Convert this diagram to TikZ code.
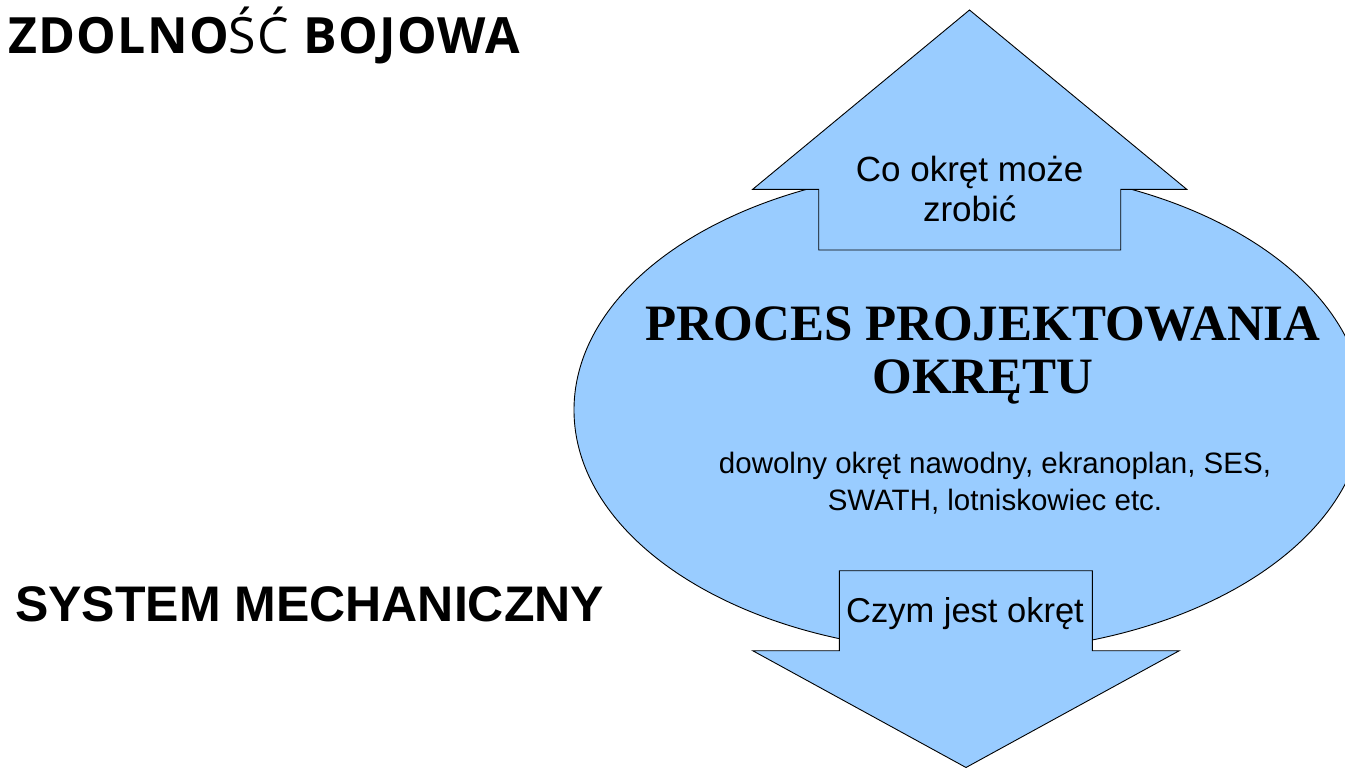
\documentclass[tikz,border=0pt]{standalone}
\usepackage{fontspec}
\setmainfont{Liberation Sans}
\newfontfamily\serifb{Liberation Serif}
\newfontfamily\opensans[LetterSpace=2.5]{Open Sans}
\usetikzlibrary{shapes.geometric}
\definecolor{shapeblue}{HTML}{99CCFF}
\tikzset{
  blueshape/.style={fill=shapeblue, draw=black, line width=0.9pt, line join=miter},
  txt/.style={inner sep=0pt, anchor=base, text=black},
}
\begin{document}
\begin{tikzpicture}[x=1pt, y=-1pt]
\useasboundingbox (0,0) rectangle (1345,768);
\clip (0,0) rectangle (1345,768);
% central ellipse
\node[blueshape, ellipse, minimum width=790pt, minimum height=484pt, inner sep=0pt] (proc) at (969,410) {};
% upward arrow
\coordinate (uptip) at (969.5,10);
\path[blueshape] (uptip) -- (1186.7,189.3) -- (1120.7,189.3) -- (1120.7,250) -- (818.7,250) -- (818.7,189.3) -- (752.7,189.3) -- cycle;
% downward arrow
\coordinate (downtip) at (966,767.5);
\path[blueshape] (downtip) -- (1179.3,650.7) -- (1092.3,650.7) -- (1092.3,570.7) -- (839.3,570.7) -- (839.3,650.7) -- (752.7,650.7) -- cycle;
% texts
\node[txt, anchor=base west] (zb) at (8,54) {\fontsize{50}{55}\selectfont\opensans\bfseries ZDOLNO{\mdseries ŚĆ} BOJOWA};
\node[txt, anchor=base west] (sm) at (15,621) {\fontsize{50}{56}\selectfont\bfseries SYSTEM MECHANICZNY};
\node[txt] (up1) at (969.7,181.7) {\fontsize{35}{40}\selectfont Co okręt może};
\node[txt] (up2) at (969.7,221.7) {\fontsize{35}{40}\selectfont zrobić};
\node[txt] (t1) at (983,340) {\fontsize{51}{56}\selectfont\serifb\bfseries PROCES PROJEKTOWANIA};
\node[txt] (t2) at (983,393) {\fontsize{51}{56}\selectfont\serifb\bfseries OKRĘTU};
\node[txt] (d1) at (995,473) {\fontsize{29.5}{36}\selectfont dowolny okręt nawodny, ekranoplan, SES,};
\node[txt] (d2) at (995,510) {\fontsize{29.5}{36}\selectfont SWATH, lotniskowiec etc.};
\node[txt] (dn) at (965,622.7) {\fontsize{34.5}{40}\selectfont Czym jest okręt};
\end{tikzpicture}
\end{document}
